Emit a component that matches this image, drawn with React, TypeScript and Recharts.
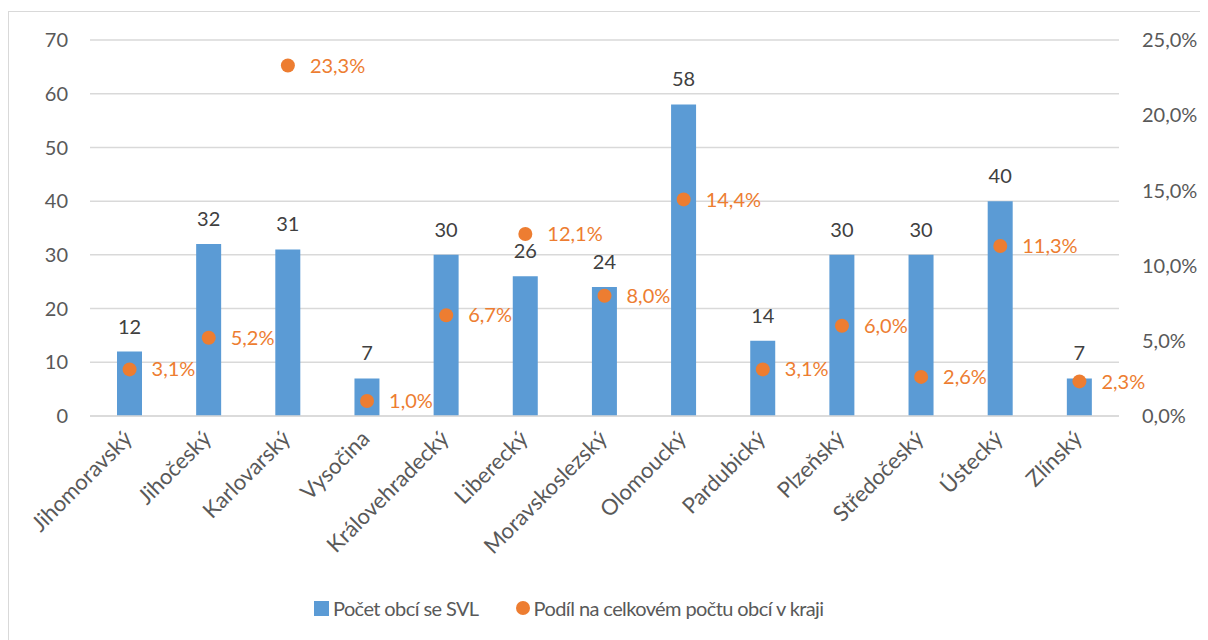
import React from "react";
import { ComposedChart, Bar, Line, XAxis, YAxis, CartesianGrid, LabelList, Legend } from "recharts";

const categories = ["Jihomoravský", "Jihočeský", "Karlovarský", "Vysočina", "Královehradecký", "Liberecký", "Moravskoslezský", "Olomoucký", "Pardubický", "Plzeňský", "Středočeský", "Ústecký", "Zlínský"];
const counts = [12, 32, 31, 7, 30, 26, 24, 58, 14, 30, 30, 40, 7];
const shares = [3.1, 5.2, 23.3, 1.0, 6.7, 12.1, 8.0, 14.4, 3.1, 6.0, 2.6, 11.3, 2.3];
const leftTicks = [0, 10, 20, 30, 40, 50, 60, 70];
const rightTicks = [0, 5, 10, 15, 20, 25];
const seriesNames = ["Počet obcí se SVL", "Podíl na celkovém počtu obcí v kraji"];

const data = categories.map((name, i) => ({ name, count: counts[i], share: shares[i] }));

const FONT = "Lato, 'Open Sans', sans-serif";
const BLUE = "#5B9BD5";
const ORANGE = "#ED7D31";
const GRAY = "#595959";

const fmtPct = (v: any) => Number(v).toFixed(1).replace(".", ",") + "%";

const XTick = (props: any) => {
  const { x, y, payload } = props;
  return (
    <g transform={`translate(${x + 4},${y + 16})`}>
      <text x={0} y={0} textAnchor="end" transform="rotate(-45)" fill={GRAY} fontSize={22} fontFamily={FONT}>
        {payload.value}
      </text>
    </g>
  );
};

const LegendContent = () => (
  <div style={{ display: "flex", alignItems: "center", fontFamily: FONT, fontSize: 20, color: GRAY, letterSpacing: -0.6 }}>
    <span style={{ display: "inline-block", width: 15, height: 15, background: BLUE, marginRight: 4 }} />
    <span style={{ marginRight: 37 }}>{seriesNames[0]}</span>
    <span style={{ display: "inline-block", width: 14, height: 14, borderRadius: 7, background: ORANGE, marginRight: 4 }} />
    <span>{seriesNames[1]}</span>
  </div>
);

export default function App() {
  return (
    <div style={{ width: 1200, height: 629, marginTop: 3, borderLeft: "1px solid #d9d9d9", borderTop: "1px solid #d9d9d9", background: "#fff" }}>
      <ComposedChart width={1199} height={628} data={data} margin={{ top: 28, right: 0, left: 0, bottom: 20 }} style={{ fontFamily: FONT }}>
        <CartesianGrid yAxisId="left" vertical={false} stroke="#d9d9d9" strokeWidth={1.5} />
        <XAxis dataKey="name" interval={0} tickLine={false} axisLine={{ stroke: "#d9d9d9", strokeWidth: 1.5 }} height={180} tick={<XTick />} />
        <YAxis yAxisId="left" orientation="left" width={81} domain={[0, 70]} ticks={leftTicks} axisLine={false} tickLine={false} tickMargin={16} tick={{ fill: GRAY, fontSize: 20, fontFamily: FONT }} />
        <YAxis yAxisId="right" orientation="right" width={89} domain={[0, 25]} ticks={rightTicks} axisLine={false} tickLine={false} tickMargin={17} tickFormatter={fmtPct} tick={{ fill: GRAY, fontSize: 20, fontFamily: FONT, textAnchor: "start" }} />
        <Legend verticalAlign="bottom" content={<LegendContent />} wrapperStyle={{ left: 305, width: 600 }} />
        <Bar yAxisId="left" dataKey="count" name={seriesNames[0]} fill={BLUE} barSize={25} isAnimationActive={false} legendType="square">
          <LabelList dataKey="count" position="top" offset={18} fill="#404040" fontSize={20} fontFamily={FONT} />
        </Bar>
        <Line yAxisId="right" dataKey="share" name={seriesNames[1]} stroke="none" isAnimationActive={false} legendType="circle"
          dot={{ r: 7, fill: ORANGE, stroke: "none" }} activeDot={false}>
          <LabelList dataKey="share" position="right" offset={22} fill={ORANGE} fontSize={20} fontFamily={FONT} formatter={fmtPct} />
        </Line>
      </ComposedChart>
    </div>
  );
}
